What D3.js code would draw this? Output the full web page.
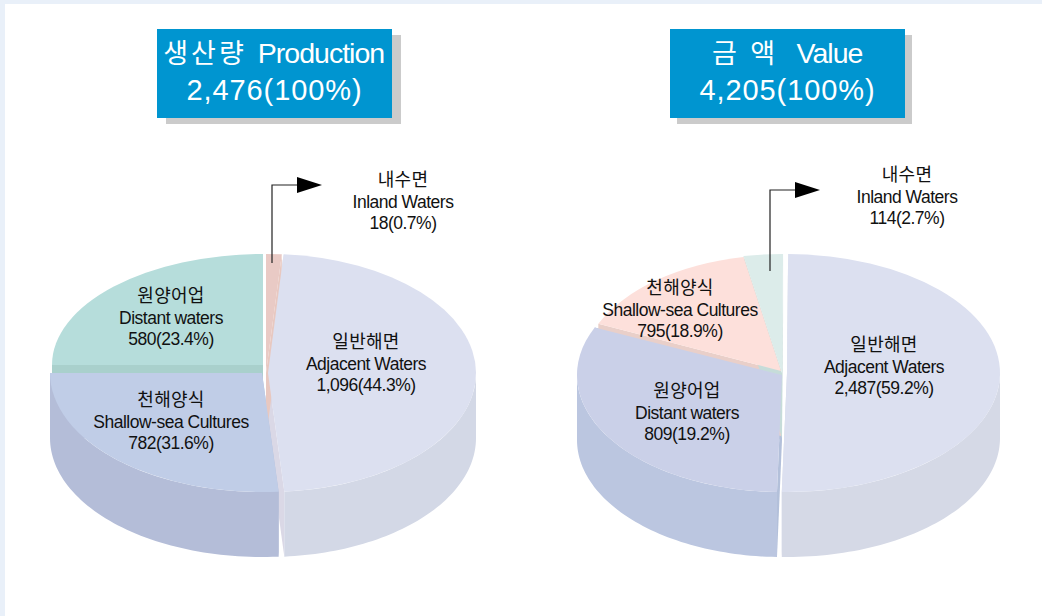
<!DOCTYPE html>
<html lang="ko">
<head>
<meta charset="utf-8">
<script src="https://cdn.jsdelivr.net/npm/d3@7/dist/d3.min.js"></script>
<style>
html,body{margin:0;padding:0;background:#fff}
svg{display:block}
text{font-family:"Liberation Sans","Noto Sans CJK KR",sans-serif;text-anchor:middle}
</style>
</head>
<body>
<svg id="chart" width="1042" height="616"></svg>
<script>
// Categories and printed labels
const categoriesKo = ["일반해면", "천해양식", "원양어업", "내수면"];
const categoriesEnProduction = ["Adjacent Waters", "Shallow-sea Cultures", "Distant waters", "Inland Waters"];
const productionLabels = ["1,096(44.3%)", "782(31.6%)", "580(23.4%)", "18(0.7%)"];

const valueOrderKo = ["일반해면", "원양어업", "천해양식", "내수면"];
const categoriesEnValue = ["Adjacent Waters", "Distant waters", "Shallow-sea Cultures", "Inland Waters"];
const valueLabels = ["2,487(59.2%)", "809(19.2%)", "795(18.9%)", "114(2.7%)"];

// Wedge sizes as actually drawn in the picture, in degrees of ellipse sweep.
// The original artwork's wedges do not follow the printed percentages exactly.
const productionDrawnSweep = [171.2, 94.5, 90, 4.3];
const valueDrawnSweep = [181.1, 112.6, 55.2, 11.1];

const titleProduction = ["생산량", "Production", "2,476(100%)"];
const titleValue = ["금 액", "Value", "4,205(100%)"];

// Layout and style (separate from the data)
const DEPTH = 65;
const toRad = d => d * Math.PI / 180;

const productionLayout = {
  startDeg: 4.3,
  slices: [
    {cx: 268, cy: 373, rx: 208, ry: 119, top: "#dce0f0", wall: "#d3d8e6", edge: "#dad8e6", lx: 366, ly: 342},
    {cx: 262, cy: 373, rx: 212, ry: 119, top: "#c0cde7", wall: "#b4bdd8", edge: "#b4bdd8", lx: 171, ly: 400},
    {cx: 263, cy: 365, rx: 211, ry: 111, top: "#b6dddb", wall: "#a7cfca", edge: "#a9d0cc", lx: 171, ly: 296},
    {cx: 266, cy: 373, rx: 211, ry: 119, top: "#e9cac5", wall: "#dab9b5", edge: "#e8c8c0", lx: 403, ly: 180}
  ],
  edgeOrder: [0, 2, 1, 3],
  topOrder: [2, 3, 0, 1],
  arrow: {x: 272, y0: 263, y1: 185, x1: 297, tip: 322}
};

const valueLayout = {
  startDeg: 0.3,
  slices: [
    {cx: 787, cy: 373, rx: 213, ry: 119, top: "#dce0f0", wall: "#d5d9e6", edge: "#d5d9e6", lx: 884, ly: 345},
    {cx: 782, cy: 375, rx: 205, ry: 117, top: "#cad0e8", wall: "#bbc6e0", edge: "#b3c0da", lx: 687, ly: 391},
    {cx: 781, cy: 371, rx: 200, ry: 116, top: "#fde0db", wall: "#e9cfc9", edge: "#e9cfc9", lx: 680, ly: 288},
    {cx: 782, cy: 373, rx: 205, ry: 119, top: "#dcecea", wall: "#c6dcd9", edge: "#c6dcd9", lx: 907, ly: 175}
  ],
  edgeOrder: [0, 1, 2, 3],
  topOrder: [3, 2, 1, 0],
  arrow: {x: 770, y0: 271, y1: 190, x1: 795, tip: 820}
};

const svg = d3.select("#chart");
svg.append("rect").attr("width", 1042).attr("height", 616).attr("fill", "#e9f0f9");
svg.append("rect").attr("x", 5).attr("y", 4).attr("width", 1037).attr("height", 612).attr("fill", "#fff");

const pt = (s, a) => [s.cx + s.rx * Math.sin(a), s.cy - s.ry * Math.cos(a)];
const closed = d3.line().curve(d3.curveLinearClosed);

function drawPie(sweep, layout) {
  const pie = d3.pie().sort(null).value(d => d)
    .startAngle(toRad(layout.startDeg)).endAngle(toRad(layout.startDeg) + 2 * Math.PI);
  const arcs = pie(sweep);
  const g = svg.append("g");

  // Cut faces of the wedges (first pass, seen only through the gaps)
  layout.edgeOrder.forEach(i => {
    const s = layout.slices[i], a = arcs[i];
    [a.startAngle, a.endAngle].forEach(ang => {
      const p = pt(s, ang);
      g.append("path")
        .attr("d", closed([[s.cx, s.cy], p, [p[0], p[1] + DEPTH], [s.cx, s.cy + DEPTH]]))
        .attr("fill", s.edge);
    });
  });

  // Outer walls and top faces
  layout.topOrder.forEach(i => {
    const s = layout.slices[i], a = arcs[i];
    const from = Math.max(a.startAngle, Math.PI / 2);
    const to = Math.min(a.endAngle, 3 * Math.PI / 2);
    if (to > from) {
      const angles = d3.range(0, 61).map(k => from + (to - from) * k / 60);
      const wall = d3.area()
        .x(t => pt(s, t)[0])
        .y0(t => pt(s, t)[1])
        .y1(t => pt(s, t)[1] + DEPTH);
      g.append("path").attr("d", wall(angles)).attr("fill", s.wall);
    }
    const arc = d3.arc().innerRadius(0).outerRadius(s.rx);
    g.append("path")
      .attr("d", arc(a))
      .attr("transform", `translate(${s.cx},${s.cy}) scale(1,${s.ry / s.rx})`)
      .attr("fill", s.top);
  });

  // Leader with arrowhead
  const ar = layout.arrow;
  g.append("path")
    .attr("d", d3.line()([[ar.x, ar.y0], [ar.x, ar.y1], [ar.x1 + 2, ar.y1]]))
    .attr("fill", "none").attr("stroke", "#222").attr("stroke-width", 1.2);
  g.append("path")
    .attr("d", closed([[ar.x1, ar.y1 - 8], [ar.tip, ar.y1], [ar.x1, ar.y1 + 8]]))
    .attr("fill", "#000");
}

function drawLabels(layout, ko, en, labels) {
  layout.slices.forEach((s, i) => {
    const t = svg.append("text").attr("fill", "#111");
    [ko[i], en[i], labels[i]].forEach((line, k) => {
      t.append("tspan").attr("x", s.lx).attr("y", s.ly + 6 + k * 21.5)
        .style("font-size", k === 0 ? "18px" : "17.5px")
        .style("letter-spacing", k === 0 ? "0.3px" : "-0.5px")
        .text(line);
    });
  });
}

function drawTitle(x, lines, koX, enX) {
  const w = 235, h = 89, y = 29;
  const shadowDx = x < 500 ? 9 : 7;
  svg.append("rect").attr("x", x + shadowDx).attr("y", y + 6).attr("width", w).attr("height", h).attr("fill", "#cbcbcb");
  svg.append("rect").attr("x", x).attr("y", y).attr("width", w).attr("height", h).attr("fill", "#0095d0");
  svg.append("text").attr("x", koX).attr("y", 63).attr("fill", "#fff")
    .style("font-size", "27px").style("letter-spacing", "3px").text(lines[0]);
  svg.append("text").attr("x", enX).attr("y", 63).attr("fill", "#fff")
    .style("font-size", "28.5px").style("letter-spacing", "-1px").text(lines[1]);
  svg.append("text").attr("x", x + w / 2).attr("y", 100).attr("fill", "#fff")
    .style("font-size", "29px").style("letter-spacing", "0.9px").text(lines[2]);
}

drawTitle(157, titleProduction, 205, 321);
drawTitle(670, titleValue, 745, 829.5);
drawPie(productionDrawnSweep, productionLayout);
drawPie(valueDrawnSweep, valueLayout);
drawLabels(productionLayout, categoriesKo, categoriesEnProduction, productionLabels);
drawLabels(valueLayout, valueOrderKo, categoriesEnValue, valueLabels);
</script>
</body>
</html>
